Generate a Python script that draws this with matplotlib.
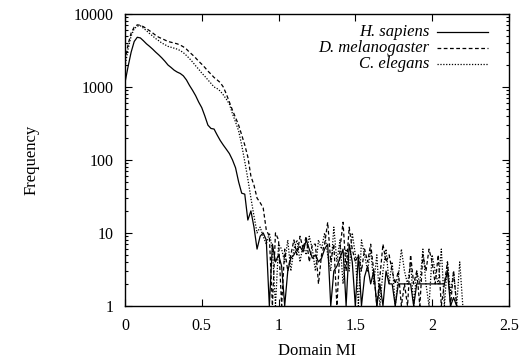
import numpy as np
import matplotlib
matplotlib.use("Agg")
import matplotlib.pyplot as plt
from matplotlib.ticker import FixedLocator, LogLocator, NullFormatter, FuncFormatter
from matplotlib.lines import Line2D

plt.rcParams['font.family'] = ['Liberation Serif', 'DejaVu Serif']

# histogram bins of domain MI, width 0.02
bin_width = 0.02

h_sapiens = [
    1150, 1900, 3000, 4200, 4800, 4700, 4300, 3900, 3600, 3300,
    3000, 2750, 2500, 2250, 2000, 1850, 1700, 1600, 1530, 1420,
    1250, 1050, 900, 760, 620, 520, 400, 300, 270, 265,
    220, 185, 160, 140, 122, 100, 78, 50, 35, 34,
    15, 20, 12, 6, 9, 10, 8, 1, 7, 4,
    5, 3.5, 1, 3, 4.5, 5, 6, 6.5, 5.5, 8,
    6, 4.5, 5, 4, 4.5, 6, 7, 1, 3, 3.5,
    4.5, 6, 1, 7, 4, 1, 5, 1, 2.5, 3.5,
    2, 3, 1, 2, 1, 3, 2, 2, 1, 2,
    2, 2, 2, 2, 1, 2, 2, 2, 2, 2,
    2, 2, 2, 2, 2, 3, 1, 1.3, 1,
]

d_melanogaster = [
    2300, 3800, 5500, 6600, 7100, 7000, 6700, 6300, 5900, 5500,
    5100, 4800, 4600, 4400, 4200, 4100, 4000, 3900, 3750, 3550,
    3300, 3000, 2750, 2500, 2250, 2050, 1850, 1650, 1500, 1350,
    1250, 1150, 1000, 800, 620, 480, 380, 300, 220, 160,
    110, 60, 45, 30, 26, 22, 11, 9, 1, 10,
    8, 1, 6, 3, 5, 8, 5, 9, 6, 9,
    4, 7, 7, 2, 5, 7, 14, 4, 7, 1,
    6, 14, 3, 12, 6, 4, 5, 3, 6, 4,
    7, 3, 1, 2.5, 7, 4, 5, 3, 2, 3,
    1, 2, 1, 5, 2, 3, 1, 5, 3, 6,
    4, 2, 5, 1, 2, 4, 1, 3, 1,
]

c_elegans = [
    1900, 3300, 5000, 6300, 6800, 6900, 6400, 5900, 5400, 5000,
    4600, 4300, 4000, 3800, 3600, 3500, 3400, 3300, 3150, 2950,
    2700, 2450, 2200, 1950, 1750, 1550, 1400, 1250, 1120, 1000,
    950, 880, 780, 680, 580, 430, 330, 250, 160, 95,
    55, 30, 17, 10, 12, 9, 7, 10, 6, 1,
    7, 6, 4, 8, 3, 6, 8, 4, 7, 5,
    9, 6, 3, 8, 6, 10, 5, 3, 12, 4,
    8, 2, 6, 3, 10, 5, 1, 8, 5, 3,
    6, 2, 5, 1, 3, 6, 2, 4, 1, 2.5,
    6, 3, 2, 4, 1, 3, 2, 6, 2, 1,
    5, 3, 2, 6, 1, 4, 1.5, 3, 1, 4,
    1,
]

series = [
    ("H. sapiens", h_sapiens, "-"),
    ("D. melanogaster", d_melanogaster, (0, (3, 2))),
    ("C. elegans", c_elegans, (0, (1, 1.3))),
]

x_ticks = [0, 0.5, 1, 1.5, 2, 2.5]
x_tick_labels = ["0", "0.5", "1", "1.5", "2", "2.5"]
y_ticks = [1, 10, 100, 1000, 10000]

fs = 12

fig = plt.figure(figsize=(5.23, 3.59), dpi=100)
ax = fig.add_axes([0.239, 0.148, 0.734, 0.813])

for name, vals, ls in series:
    x = np.arange(len(vals)) * bin_width
    ax.plot(x, vals, color="black", linestyle=ls, linewidth=0.9)

ax.set_yscale("log")
ax.set_xlim(0, 2.5)
ax.set_ylim(1, 10000)
ax.xaxis.set_major_locator(FixedLocator(x_ticks))
ax.set_xticklabels(x_tick_labels)
ax.yaxis.set_major_locator(FixedLocator(y_ticks))
ax.yaxis.set_major_formatter(FuncFormatter(lambda v, p: f"{int(round(v))}"))
ax.yaxis.set_minor_locator(LogLocator(base=10, subs=np.arange(2, 10)))
ax.yaxis.set_minor_formatter(NullFormatter())

ax.tick_params(which="both", direction="in", top=True, right=True, labelsize=fs - 0.5, width=0.8)
ax.tick_params(which="major", length=5)
ax.tick_params(axis="x", which="major", pad=9)
ax.tick_params(axis="y", which="major", pad=8)
ax.tick_params(which="minor", length=2.5)
for sp in ax.spines.values():
    sp.set_linewidth(1.0)

ax.set_xlabel("Domain MI", fontsize=fs, labelpad=6)
ax.set_ylabel("Frequency", fontsize=fs, labelpad=25)

# gnuplot-style key: right-aligned italic label, sample line to its right
rows = [0.938, 0.884, 0.829]
for (name, vals, ls), ky in zip(series, rows):
    ax.text(0.794, ky, name, transform=ax.transAxes, ha="right", va="center",
            fontsize=fs, style="italic")
    ax.add_line(Line2D([0.8125, 0.945], [ky, ky], transform=ax.transAxes,
                       color="black", linestyle=ls, linewidth=0.9))

fig.savefig("out.png", dpi=100)
